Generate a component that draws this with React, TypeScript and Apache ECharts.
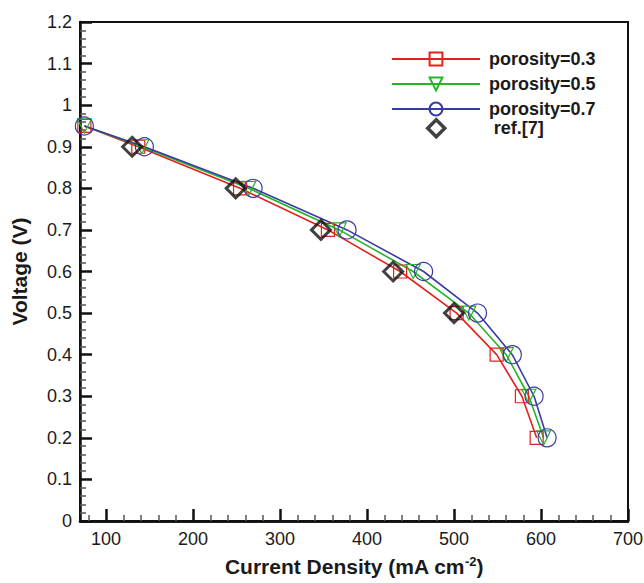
import React, { useEffect, useRef } from "react";
import * as echarts from "echarts";

const voltages = [0.95, 0.9, 0.8, 0.7, 0.6, 0.5, 0.4, 0.3, 0.2];
const porosity03 = [75, 137, 254, 355, 438, 503, 549, 578, 595];
const porosity05 = [75, 141, 264, 368, 453, 517, 560, 586, 603];
const porosity07 = [75, 144, 269, 377, 465, 527, 567, 592, 607];
const refCurrent = [130, 249, 347, 430, 500];
const refVoltage = [0.9, 0.8, 0.7, 0.6, 0.5];
const xMajorTicks = [100, 200, 300, 400, 500, 600, 700];
const xMinorTicks = [80, 120, 140, 160, 180, 220, 240, 260, 280, 320, 340, 360, 380, 420, 440, 460, 480, 520, 540, 560, 580, 620, 640, 660, 680];

const FONT = "'Liberation Sans', Arial, Helvetica, sans-serif";
const RED = "#e0221e";
const GREEN = "#27b427";
const BLUE = "#3a3aa6";
const DIAMOND = "path://M0,-10L10,0L0,10L-10,0Z";

export default function App() {
  const ref = useRef<HTMLDivElement>(null);
  useEffect(() => {
    if (!ref.current) return;
    const chart = echarts.init(ref.current, null, { renderer: "svg" });
    const pair = (xs: number[], ys: number[]) => xs.map((x, i) => [x, ys[i]]);
    const lineSeries = (name: string, xs: number[], color: string, symbol: string, size: number, rotate: number) => ({
      name,
      type: "line",
      xAxisIndex: 1,
      data: pair(xs, voltages),
      symbol,
      symbolSize: size,
      symbolRotate: rotate,
      lineStyle: { color, width: 1.6 },
      itemStyle: { color: "rgba(255,255,255,0)", borderColor: color, borderWidth: 1.2 },
      smooth: false,
    });
    const legendText = { fontFamily: FONT, fontSize: 18, fontWeight: "bold", color: "#1a1a1a", padding: [0, 0, 0, 4] };
    chart.setOption({
      animation: false,
      backgroundColor: "#ffffff",
      textStyle: { fontFamily: FONT },
      grid: { left: 80, right: 16, top: 22, bottom: 62, show: true, borderColor: "#111", borderWidth: 2, outerBoundsMode: "none" },
      legend: [
        {
          left: 391,
          top: 50,
          padding: 0,
          orient: "vertical",
          itemWidth: 88,
          itemHeight: 16,
          itemGap: 7,
          data: ["porosity=0.3", "porosity=0.5", "porosity=0.7"],
          textStyle: legendText,
        },
        {
          left: 426,
          top: 118,
          padding: 0,
          orient: "vertical",
          itemWidth: 25,
          itemHeight: 17,
          data: [{ name: "ref.[7]", itemStyle: { color: "rgba(255,255,255,0)", borderColor: "#111", borderWidth: 3.5 } }],
          textStyle: { ...legendText, padding: [0, 0, 0, 40] },
        },
      ],
      xAxis: [
        {
          type: "value",
          min: 70,
          max: 700,
          position: "bottom",
          axisLine: { show: true, lineStyle: { color: "#111", width: 2.5 } },
          axisTick: { show: true, inside: true, length: 6, customValues: xMinorTicks, lineStyle: { color: "#555", width: 1.5 } },
          axisLabel: { show: false },
          splitLine: { show: false },
        },
        {
          type: "value",
          min: 70,
          max: 700,
          position: "bottom",
          axisLine: { show: true, lineStyle: { color: "#111", width: 2.5 } },
          axisTick: { show: true, inside: true, length: 12, customValues: xMajorTicks, lineStyle: { color: "#111", width: 2.5 } },
          axisLabel: {
            margin: 9,
            fontSize: 18,
            color: "#1a1a1a",
            fontFamily: FONT,
            customValues: xMajorTicks,
          },
          splitLine: { show: false },
          name: "Current Density (mA cm{sup|-2})",
          nameLocation: "middle",
          nameGap: 34,
          nameTextStyle: {
            fontSize: 21,
            fontWeight: "bold",
            color: "#1a1a1a",
            fontFamily: FONT,
            rich: {
              sup: { fontSize: 13, fontWeight: "bold", color: "#1a1a1a", fontFamily: FONT, verticalAlign: "top", padding: [0, 0, 9, 0] },
            },
          },
        },
      ],
      yAxis: {
        type: "value",
        min: 0,
        max: 1.2,
        interval: 0.1,
        axisLine: { show: true, lineStyle: { color: "#111", width: 2.5 } },
        axisTick: { show: true, inside: true, length: 12, lineStyle: { color: "#111", width: 2.5 } },
        minorTick: { show: true, splitNumber: 5, length: 6, lineStyle: { color: "#555", width: 1.5 } },
        axisLabel: { margin: 8, fontSize: 18, color: "#1a1a1a", fontFamily: FONT },
        splitLine: { show: false },
        name: "Voltage (V)",
        nameLocation: "middle",
        nameGap: 50,
        nameTextStyle: { fontSize: 21, fontWeight: "bold", color: "#1a1a1a", fontFamily: FONT },
      },
      series: [
        lineSeries("porosity=0.3", porosity03, RED, "rect", 13, 0),
        lineSeries("porosity=0.5", porosity05, GREEN, "triangle", 14, 180),
        lineSeries("porosity=0.7", porosity07, BLUE, "circle", 18, 0),
        {
          name: "ref.[7]",
          type: "scatter",
          xAxisIndex: 1,
          data: pair(refCurrent, refVoltage),
          symbol: DIAMOND,
          symbolKeepAspect: true,
          symbolSize: 19,
          itemStyle: { color: "rgba(255,255,255,0)", borderColor: "#111", borderWidth: 3 },
          z: 5,
        },
      ],
    });
    return () => chart.dispose();
  }, []);
  return <div ref={ref} style={{ position: "fixed", left: 0, top: 0, width: 644, height: 583 }} />;
}
